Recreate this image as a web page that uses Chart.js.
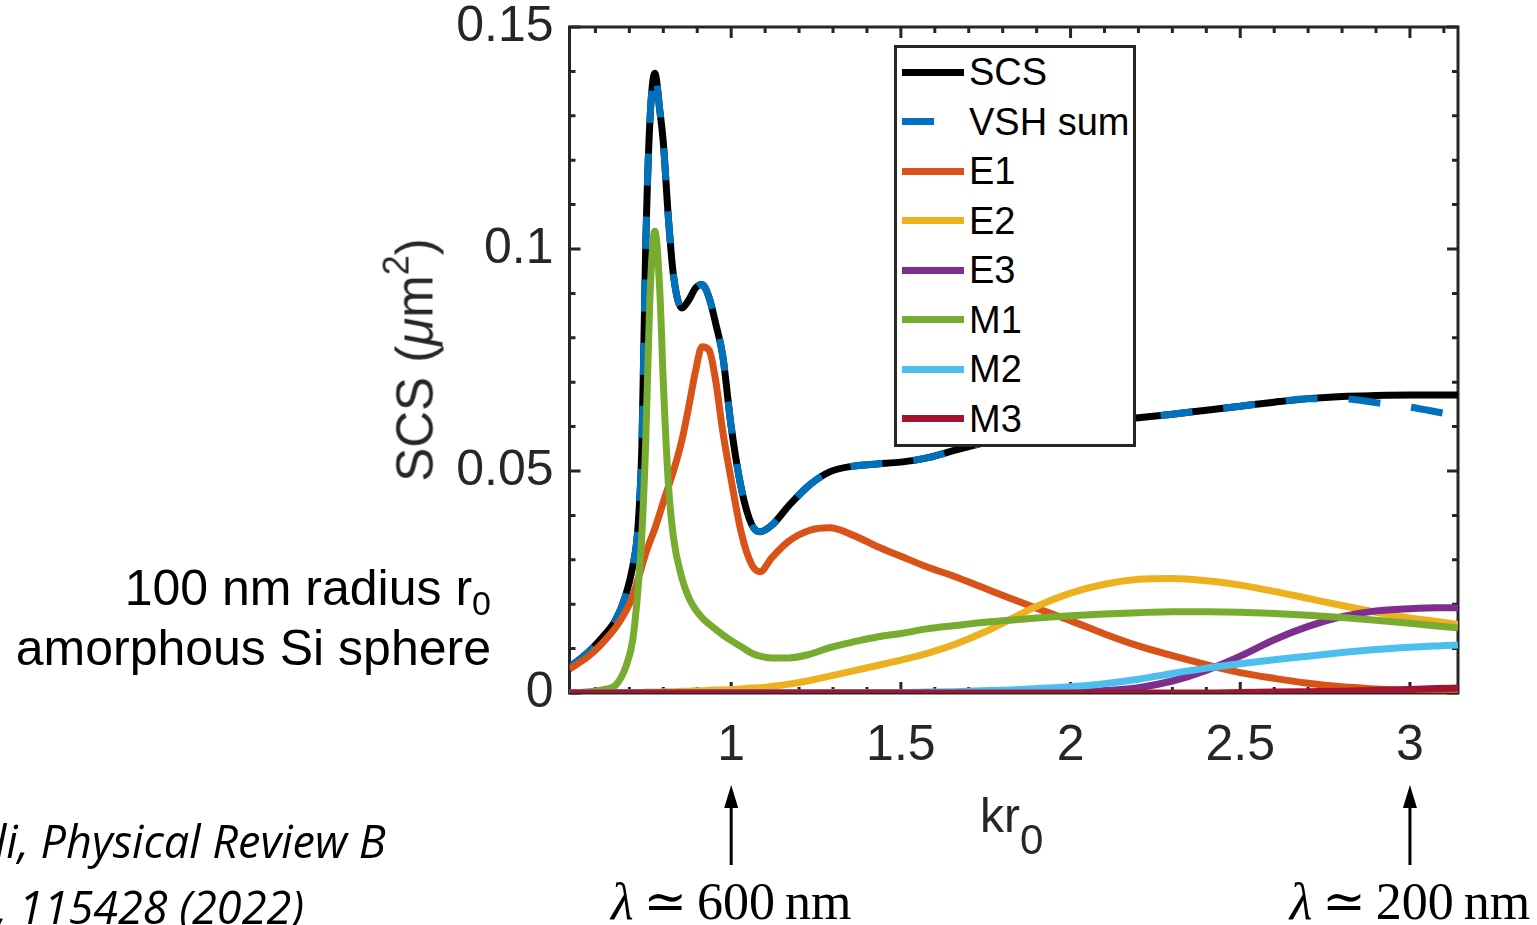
<!DOCTYPE html>
<html>
<head>
<meta charset="utf-8">
<title>SCS multipoles</title>
<script src="https://cdn.jsdelivr.net/npm/chart.js@4.4.1/dist/chart.umd.min.js"></script>
<style>
  body { margin: 0; background: #fff; }
  #wrap { position: relative; width: 1537px; height: 925px; overflow: hidden;
          font-family: "Liberation Sans", Arial, sans-serif; }
  #c { position: absolute; left: 0; top: 0; }
  .t { position: absolute; white-space: nowrap; line-height: 1; }
  .sub { position: relative; }
  #ytitle { left: 415px; top: 360px; transform: translate(-50%, -50%) rotate(-90deg);
            font-size: 51px; color: #262626; }
  #xtitle { left: 980px; top: 792px; font-size: 48px; color: #262626; }
  .note { font-size: 50px; color: #000; right: 1046px; text-align: right; }
  .cite { font-family: "Open Sans", "Noto Sans", sans-serif; font-style: italic; font-size: 45px; color: #000; }
  .lam { font-family: "Liberation Serif", "DejaVu Serif", serif; font-size: 52px; color: #000;
         top: 876px; transform: translateX(-50%); word-spacing: -3px; }
  #legend { position: absolute; left: 894px; top: 45px; width: 242px; height: 402px; box-sizing: border-box;
            border: 3px solid #262626; background: #fff; }
  .row { position: absolute; left: 5px; height: 40px; display: flex; align-items: center; }
  .sample { width: 62px; height: 7px; }
  .lab { margin-left: 5px; font-size: 38px; line-height: 40px; color: #000; }
</style>
</head>
<body>
<div id="wrap">
  <canvas id="c" width="1537" height="925"></canvas>
  <div id="ytitle" class="t">SCS (<i>μ</i>m<span class="sub" style="font-size:36px; top:-24px;">2</span>)</div>
  <div id="xtitle" class="t">kr<span class="sub" style="font-size:42px; top:22px;">0</span></div>
  <div class="t note" style="top:563px;">100 nm radius r<span class="sub" style="font-size:34px; top:10px;">0</span></div>
  <div class="t note" style="top:623px;">amorphous Si sphere</div>
  <div class="t cite" style="left:-5px; top:818px;">li, Physical Review B</div>
  <div class="t cite" style="left:-4px; top:884px;">, 115428 (2022)</div>
  <div id="lam0" class="t lam"><i>λ</i> ≃ 600 nm</div>
  <div id="lam1" class="t lam"><i>λ</i> ≃ 200 nm</div>
  <div id="legend"></div>
</div>
<script>
// kr0 sample points
const kr = [0.5236, 0.58, 0.62, 0.66, 0.69, 0.71, 0.725, 0.737, 0.748, 0.76,
    0.775, 0.79, 0.80, 0.815, 0.83, 0.855, 0.875, 0.895, 0.914, 0.935,
    0.955, 0.975, 1.00, 1.03, 1.06, 1.085, 1.12, 1.17, 1.23, 1.29,
    1.36, 1.43, 1.50, 1.58, 1.66, 1.74, 1.82, 1.90, 2.00, 2.10,
    2.20, 2.30, 2.40, 2.50, 2.60, 2.70, 2.80, 2.90, 3.00, 3.08,
    3.1416];

const scs = [0.0058, 0.0093, 0.0125, 0.0165, 0.0222, 0.0285, 0.0370, 0.0560, 0.1000, 0.1280,
    0.1396, 0.1310, 0.1240, 0.1070, 0.0940, 0.0867, 0.0885, 0.0912, 0.0920, 0.0890,
    0.0830, 0.0760, 0.0600, 0.0460, 0.0380, 0.0363, 0.0378, 0.0422, 0.0468, 0.0498,
    0.0511, 0.0516, 0.0520, 0.0530, 0.0547, 0.0563, 0.0578, 0.0592, 0.0605, 0.0613,
    0.0620, 0.0628, 0.0637, 0.0646, 0.0655, 0.0663, 0.0668, 0.0670, 0.0671, 0.0671,
    0.0671];

const vshSum = [0.0058, 0.0093, 0.0125, 0.0165, 0.0222, 0.0285, 0.0370, 0.0560, 0.1000, 0.1280,
    0.1396, 0.1310, 0.1240, 0.1070, 0.0940, 0.0867, 0.0885, 0.0912, 0.0920, 0.0890,
    0.0830, 0.0760, 0.0600, 0.0460, 0.0380, 0.0363, 0.0378, 0.0422, 0.0468, 0.0498,
    0.0511, 0.0516, 0.0520, 0.0530, 0.0547, 0.0563, 0.0578, 0.0592, 0.0605, 0.0613,
    0.0620, 0.0628, 0.0637, 0.0646, 0.0655, 0.0663, 0.0663, 0.0654, 0.0644, 0.0633,
    0.0624];

const e1 = [0.0054, 0.0083, 0.0112, 0.0148, 0.0185, 0.0218, 0.0255, 0.0286, 0.0314, 0.0340,
    0.0370, 0.0405, 0.0430, 0.0465, 0.0500, 0.0570, 0.0645, 0.0725, 0.0780, 0.0772,
    0.0700, 0.0590, 0.0480, 0.0360, 0.0290, 0.0273, 0.0305, 0.0342, 0.0366, 0.0372,
    0.0355, 0.0330, 0.0308, 0.0283, 0.0262, 0.0238, 0.0214, 0.0191, 0.0163, 0.0133,
    0.0106, 0.0084, 0.0064, 0.0046, 0.0033, 0.0022, 0.0014, 0.0009, 0.0005, 0.0003,
    0.0002];

const e2 = [0, 0, 0, 0.0001, 0.0001, 0.0001, 0.0001, 0.0001, 0.0002, 0.0002,
    0.0002, 0.0002, 0.0003, 0.0003, 0.0003, 0.0004, 0.0004, 0.0005, 0.0005, 0.0006,
    0.0007, 0.0007, 0.0008, 0.0009, 0.0011, 0.0012, 0.0015, 0.0020, 0.0028, 0.0038,
    0.0050, 0.0062, 0.0074, 0.0090, 0.0110, 0.0135, 0.0165, 0.0195, 0.0225, 0.0245,
    0.0256, 0.0258, 0.0253, 0.0243, 0.0229, 0.0213, 0.0197, 0.0182, 0.0169, 0.0161,
    0.0154];

const e3 = [0, 0, 0, 0, 0, 0, 0, 0, 0, 0,
    0, 0, 0, 0, 0, 0, 0, 0, 0, 0,
    0, 0, 0, 0, 0, 0, 0, 0, 0, 0,
    0, 0, 0, 0, 0, 0, 0.0001, 0.0001, 0.0002, 0.0005,
    0.0012, 0.0027, 0.0051, 0.0083, 0.0120, 0.0150, 0.0172, 0.0185, 0.0190, 0.0192,
    0.0192];

const m1 = [0.0000, 0.0003, 0.0007, 0.0018, 0.0060, 0.0120, 0.0230, 0.0360, 0.0560, 0.0880,
    0.1040, 0.0900, 0.0700, 0.0470, 0.0350, 0.0258, 0.0215, 0.0188, 0.0170, 0.0155,
    0.0143, 0.0131, 0.0118, 0.0104, 0.0090, 0.0083, 0.0079, 0.0079, 0.0087, 0.0102,
    0.0115, 0.0126, 0.0134, 0.0145, 0.0152, 0.0159, 0.0164, 0.0169, 0.0174, 0.0178,
    0.0181, 0.0183, 0.0183, 0.0182, 0.0179, 0.0175, 0.0170, 0.0164, 0.0157, 0.0151,
    0.0147];

const m2 = [0, 0, 0, 0, 0, 0, 0, 0, 0, 0,
    0, 0, 0, 0, 0, 0, 0, 0, 0, 0,
    0, 0, 0, 0, 0, 0, 0, 0, 0, 0.0001,
    0.0001, 0.0001, 0.0001, 0.0002, 0.0003, 0.0005, 0.0007, 0.0010, 0.0014, 0.0021,
    0.0031, 0.0044, 0.0056, 0.0066, 0.0075, 0.0083, 0.0091, 0.0098, 0.0103, 0.0106,
    0.0108];

const m3 = [0, 0, 0, 0, 0, 0, 0, 0, 0, 0,
    0, 0, 0, 0, 0, 0, 0, 0, 0, 0,
    0, 0, 0, 0, 0, 0, 0, 0, 0, 0,
    0, 0, 0, 0, 0, 0, 0, 0, 0, 0,
    0, 0, 0, 0.0001, 0.0002, 0.0003, 0.0004, 0.0006, 0.0008, 0.0010,
    0.0011];

const labels = ["SCS", "VSH sum", "E1", "E2", "E3", "M1", "M2", "M3"];
const series = [scs, vshSum, e1, e2, e3, m1, m2, m3];
const colors = ["#000000", "#0072BD", "#D95319", "#EDB120", "#7E2F8E", "#77AC30", "#4DBEEE", "#A2142F"];

const xTicks = [1, 1.5, 2, 2.5, 3];
const yTicks = [0, 0.05, 0.1, 0.15];
const arrowAt = [1, 3];   // kr0 for 600 nm and 200 nm
const xMin = 0.5236, xMax = 3.1416;

const tickFont = { family: "Liberation Sans", size: 50, lineHeight: 1 };

let datasets = [];
for (let i = 0; i < series.length; i++) {
    datasets.push({
        label: labels[i],
        data: kr.map((x, j) => ({ x: x, y: series[i][j] })),
        borderColor: colors[i],
        borderDash: i == 1 ? [32, 31] : [],
        order: series.length - i   // later series on top, like matlab
    });
}

// matlab style box with inward ticks, drawn under the lines
const framePlugin = {
    id: "frame",
    beforeDatasetsDraw(chart) {
        const ctx = chart.ctx;
        const a = chart.chartArea;
        const x = chart.scales.x, y = chart.scales.y;
        ctx.save();
        ctx.strokeStyle = "#262626";
        ctx.lineWidth = 3;
        ctx.strokeRect(a.left, a.top, a.right - a.left, a.bottom - a.top);
        ctx.beginPath();
        for (let k = 6; k <= 31; k++) {
            const px = x.getPixelForValue(k / 10);
            const len = k % 5 == 0 ? 11 : 6;
            ctx.moveTo(px, a.bottom); ctx.lineTo(px, a.bottom - len);
            ctx.moveTo(px, a.top); ctx.lineTo(px, a.top + len);
        }
        for (let k = 0; k <= 15; k++) {
            const py = y.getPixelForValue(k / 100);
            const len = k % 5 == 0 ? 11 : 6;
            ctx.moveTo(a.left, py); ctx.lineTo(a.left + len, py);
            ctx.moveTo(a.right, py); ctx.lineTo(a.right - len, py);
        }
        ctx.stroke();
        ctx.restore();
    }
};

// arrows below the axis
const arrowPlugin = {
    id: "arrows",
    afterDraw(chart) {
        const ctx = chart.ctx;
        ctx.save();
        ctx.strokeStyle = "#000";
        ctx.fillStyle = "#000";
        ctx.lineWidth = 3;
        arrowAt.forEach(v => {
            const px = chart.scales.x.getPixelForValue(v);
            ctx.beginPath();
            ctx.moveTo(px, 800);
            ctx.lineTo(px, 865);
            ctx.stroke();
            ctx.beginPath();
            ctx.moveTo(px, 785);
            ctx.lineTo(px - 7, 808);
            ctx.lineTo(px + 7, 808);
            ctx.closePath();
            ctx.fill();
        });
        ctx.restore();
    }
};

const chart = new Chart(document.getElementById("c"), {
    type: "line",
    data: { datasets: datasets },
    options: {
        responsive: false,
        animation: false,
        layout: { padding: { left: 0, top: 27, right: 79, bottom: 0 } },
        elements: {
            point: { radius: 0 },
            line: { borderWidth: 7, cubicInterpolationMode: "monotone", borderCapStyle: "butt", fill: false }
        },
        plugins: {
            legend: { display: false },
            tooltip: { enabled: false }
        },
        scales: {
            x: {
                type: "linear",
                min: xMin,
                max: xMax,
                grid: { display: false, drawTicks: false },
                border: { display: false },
                afterBuildTicks: s => { s.ticks = xTicks.map(v => ({ value: v })); },
                afterFit: s => { s.height = 232; s.paddingLeft = 0; s.paddingRight = 0; },
                ticks: {
                    padding: 28,
                    color: "#262626",
                    font: tickFont,
                    maxRotation: 0,
                    autoSkip: false,
                    callback: v => String(v)
                }
            },
            y: {
                type: "linear",
                min: 0,
                max: 0.15,
                grid: { display: false, drawTicks: false },
                border: { display: false },
                afterBuildTicks: s => { s.ticks = yTicks.map(v => ({ value: v })); },
                afterFit: s => { s.width = 569.5; s.paddingTop = 0; s.paddingBottom = 0; },
                ticks: {
                    padding: 16,
                    color: "#262626",
                    font: tickFont,
                    autoSkip: false,
                    callback: v => String(v)
                }
            }
        }
    },
    plugins: [framePlugin, arrowPlugin]
});

// wavelength labels under the arrows
arrowAt.forEach((v, i) => {
    document.getElementById("lam" + i).style.left = chart.scales.x.getPixelForValue(v) + "px";
});

// legend box, built from the datasets
const legend = document.getElementById("legend");
for (let i = 0; i < datasets.length; i++) {
    const row = document.createElement("div");
    row.className = "row";
    row.style.top = (24 + i * 49.5 - 20) + "px";
    const bg = i == 1
        ? "repeating-linear-gradient(90deg, " + colors[i] + " 0 32px, transparent 32px 63px)"
        : colors[i];
    row.innerHTML = `<span class="sample" style="background:${bg}"></span><span class="lab">${labels[i]}</span>`;
    legend.appendChild(row);
}
</script>
</body>
</html>
